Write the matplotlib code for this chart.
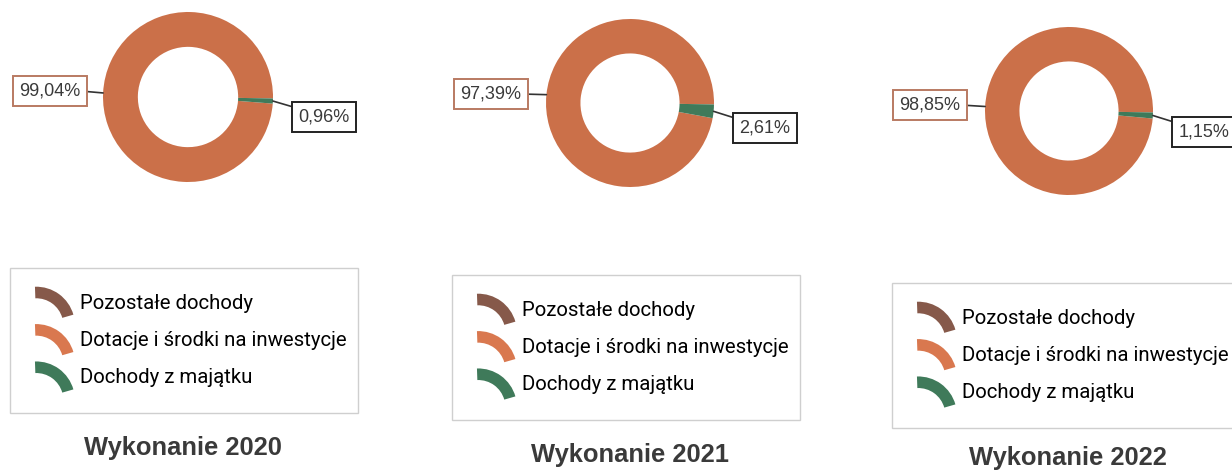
import matplotlib
matplotlib.use("Agg")
import matplotlib.pyplot as plt
import numpy as np
from matplotlib.patches import Wedge, Patch
from matplotlib.legend_handler import HandlerPatch

# data
years = ["2020", "2021", "2022"]
categories = ["Pozostałe dochody", "Dotacje i środki na inwestycje", "Dochody z majątku"]
pozostale = [0.0, 0.0, 0.0]
dotacje = [99.04, 97.39, 98.85]
majatek = [0.96, 2.61, 1.15]

colors = ["#86594A", "#CB7049", "#3F7A5A"]
legend_colors = ["#86594A", "#D9784F", "#3F7A5A"]

W, H = 1232, 475

# layout in pixels (x, y from top)
centers = [(188, 97), (630, 103), (1069, 111)]
radii = [85, 84, 84]
orange_lbl = [(50, 91), (491, 94), (930, 105)]
green_lbl = [(324, 117), (765, 128), (1204, 132)]
legend_pos = [(10, 268), (452, 275), (892, 283)]
title_pos = [(183, 448), (630, 455), (1068, 458)]


class ArcHandler(HandlerPatch):
    # legend icon drawn as a piece of a ring
    def create_artists(self, legend, orig_handle, xdescent, ydescent,
                       width, height, fontsize, trans):
        r = width * 1.05
        cx = -xdescent + 0.02 * r
        cy = -ydescent + height / 2 - 0.62 * r
        p = Wedge((cx, cy), r, 16, 92, width=0.3 * r,
                  facecolor=orig_handle.get_facecolor(), edgecolor="none")
        p.set_transform(trans)
        return [p]


fig = plt.figure(figsize=(W / 100, H / 100), dpi=100)
ax = fig.add_axes([0, 0, 1, 1])

for i in range(3):
    cx, cy = centers[i]
    r = radii[i]
    vals = [pozostale[i], dotacje[i], majatek[i]]
    wedges, _ = ax.pie(vals, colors=colors, center=(cx, H - cy), radius=r,
                       startangle=-1, counterclock=True,
                       wedgeprops=dict(width=r * 0.41, edgecolor="none"))

    # percentage labels with leader lines
    for j, (pos, ec, rel) in enumerate([(orange_lbl[i], "#B97A62", (1, 0.5)),
                                        (green_lbl[i], "#222222", (0, 1))]):
        wdg = wedges[j + 1]
        mid = np.deg2rad((wdg.theta1 + wdg.theta2) / 2)
        xy = (cx + r * np.cos(mid), H - cy + r * np.sin(mid))
        v = vals[j + 1]
        ax.annotate(f"{v:.2f}%".replace(".", ","), xy=xy,
                    xytext=(pos[0], H - pos[1]), ha="center", va="center",
                    fontsize=13, family="Liberation Sans", color="#3a3a3a",
                    bbox=dict(boxstyle="square,pad=0.35", fc="white", ec=ec, lw=1.4),
                    arrowprops=dict(arrowstyle="-", color="#333333", lw=1.2,
                                    relpos=rel, shrinkA=0, shrinkB=0))

    handles = [Patch(facecolor=c, label=lab) for c, lab in zip(legend_colors, categories)]
    lx, ly = legend_pos[i]
    fig.legend(handles=handles, loc="upper left",
               bbox_to_anchor=(lx / W, 1 - ly / H, 348 / W, 0.0), mode="expand",
               handler_map={Patch: ArcHandler()},
               prop={"family": "Roboto", "size": 14.7},
               handlelength=1.8, handletextpad=0.4, labelspacing=0.9,
               borderpad=1.25, borderaxespad=0, fancybox=False,
               edgecolor="#cfcfcf", framealpha=1)

    tx, ty = title_pos[i]
    fig.text(tx / W, 1 - ty / H, "Wykonanie " + years[i], ha="center", va="center",
             fontsize=18.4, fontweight="bold", family="Liberation Sans", color="#3a3a3a")

ax.set_xlim(0, W)
ax.set_ylim(0, H)
ax.set_aspect("equal")
ax.axis("off")

fig.savefig("out.png", dpi=100)
